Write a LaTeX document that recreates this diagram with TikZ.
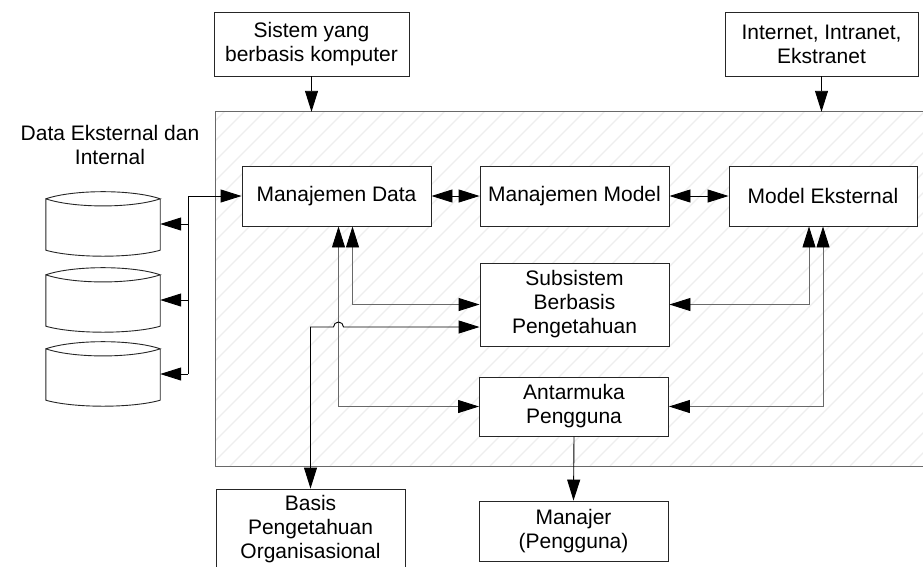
\documentclass[tikz,border=0pt]{standalone}
\usepackage{fontspec}
\setmainfont{Liberation Sans}
\usetikzlibrary{arrows.meta,calc}
\definecolor{hatchgray}{RGB}{238,238,238}
\definecolor{linegray}{RGB}{105,105,105}

\newcommand{\drum}[1]{%
\draw[dbline] ($(#1.north west)+(0,7)$) .. controls +(28,-9.5) and +(-28,-9.5) .. ($(#1.north east)+(0,7)$)
  .. controls +(-28,9.5) and +(28,9.5) .. ($(#1.north west)+(0,7)$) -- ($(#1.south west)+(0,-6)$)
  .. controls +(28,8) and +(-28,8) .. ($(#1.south east)+(0,-6)$) -- ($(#1.north east)+(0,7)$);}

\begin{document}
\begin{tikzpicture}[x=1pt,y=-1pt,font=\fontsize{21}{24}\selectfont,
  box/.style={draw=black!85,line width=0.9pt,fill=white,align=center,inner sep=2pt,minimum width=189pt,minimum height=60pt},
  dbnode/.style={minimum width=114pt,minimum height=64pt,inner sep=0pt},
  dbline/.style={draw=black!85,line width=0.9pt,fill=white},
  hatch/.style={hatchgray,line width=1.3pt},
  arr/.style={line width=0.9pt,-{Triangle[length=21pt,width=13pt,black]}},
  darr/.style={line width=0.9pt,{Triangle[length=21pt,width=13pt,black]}-{Triangle[length=21pt,width=13pt,black]}},
  feed/.style={darr,draw=linegray}]
\useasboundingbox (0,0) rectangle (923,566);
\clip (0,0) rectangle (923,566);

% kotak besar
\node[fill=white,minimum width=719pt,minimum height=354pt] (dss) at (575.5,289) {};
\begin{scope}
\clip (dss.south west) rectangle (dss.north east);
\foreach \i in {0,...,54}
  \draw[hatch] (\i*20-150,466) -- ++(360,-360);
\end{scope}
\draw[draw=linegray,line width=1.3pt] (dss.south west) rectangle (dss.north east);

% masukan atas
\node[box,minimum width=195pt,minimum height=64pt] (sys) at (311.5,44) {Sistem yang\\berbasis komputer};
\node[box,minimum width=193pt,minimum height=64pt] (inet) at (821.5,44) {Internet, Intranet,\\Ekstranet};

% komponen
\node[box] (mdata) at (336.5,196) {Manajemen Data};
\node[box] (mmodel) at (574.5,196) {Manajemen Model};
\node[box,minimum width=188pt] (mext) at (823,196) {Model Eksternal};
\node[box,minimum height=83pt] (kbs) at (574.5,304.5) {Subsistem\\Berbasis\\Pengetahuan};
\node[box,minimum height=59pt] (ui) at (574,406.5) {Antarmuka\\Pengguna};
\node[box,minimum height=80pt] (basis) at (310.5,529) {Basis\\Pengetahuan\\Organisasional};
\node[box] (mgr) at (573.5,531) {Manajer\\(Pengguna)};

% basis data
\node[align=center] (dlabel) at (110,145) {Data Eksternal dan\\Internal};
\node[dbnode] (db1) at (103,224) {};
\node[dbnode] (db2) at (103,300) {};
\node[dbnode] (db3) at (103,374) {};
\drum{db1}
\drum{db2}
\drum{db3}

\coordinate (jct) at (188,196);
\draw[arr] (jct) -- (mdata.west);
\draw[line width=0.9pt] (jct) -- (jct |- db3.east);
\foreach \d in {db1,db2,db3}
  \draw[arr] (jct |- \d.east) -- (\d.east);

\draw[arr] (sys.south) -- (sys.south |- dss.north);
\draw[arr] (inet.south) -- (inet.south |- dss.north);

\draw[darr] (mdata) -- (mmodel);
\draw[darr] (mmodel) -- (mext);

\coordinate (md1) at ([xshift=2pt]mdata.south);
\coordinate (md2) at ([xshift=16pt]mdata.south);
\coordinate (me1) at ([xshift=-14pt]mext.south);
\coordinate (me2) at (mext.south);
\coordinate (kb2) at ([yshift=-22.5pt]kbs.west);

\draw[feed] (md2) |- (kbs.west);
\draw[feed] (md1) |- (ui.west);
\draw[feed] (me1) |- (kbs.east);
\draw[feed] (me2) |- (ui.east);
\draw[darr] (basis.north) |- ([xshift=-5pt]md1 |- kb2) arc[start angle=180,end angle=0,radius=5pt] -- (kb2);

\draw[arr] (ui.south) -- (mgr.north);
\end{tikzpicture}
\end{document}
